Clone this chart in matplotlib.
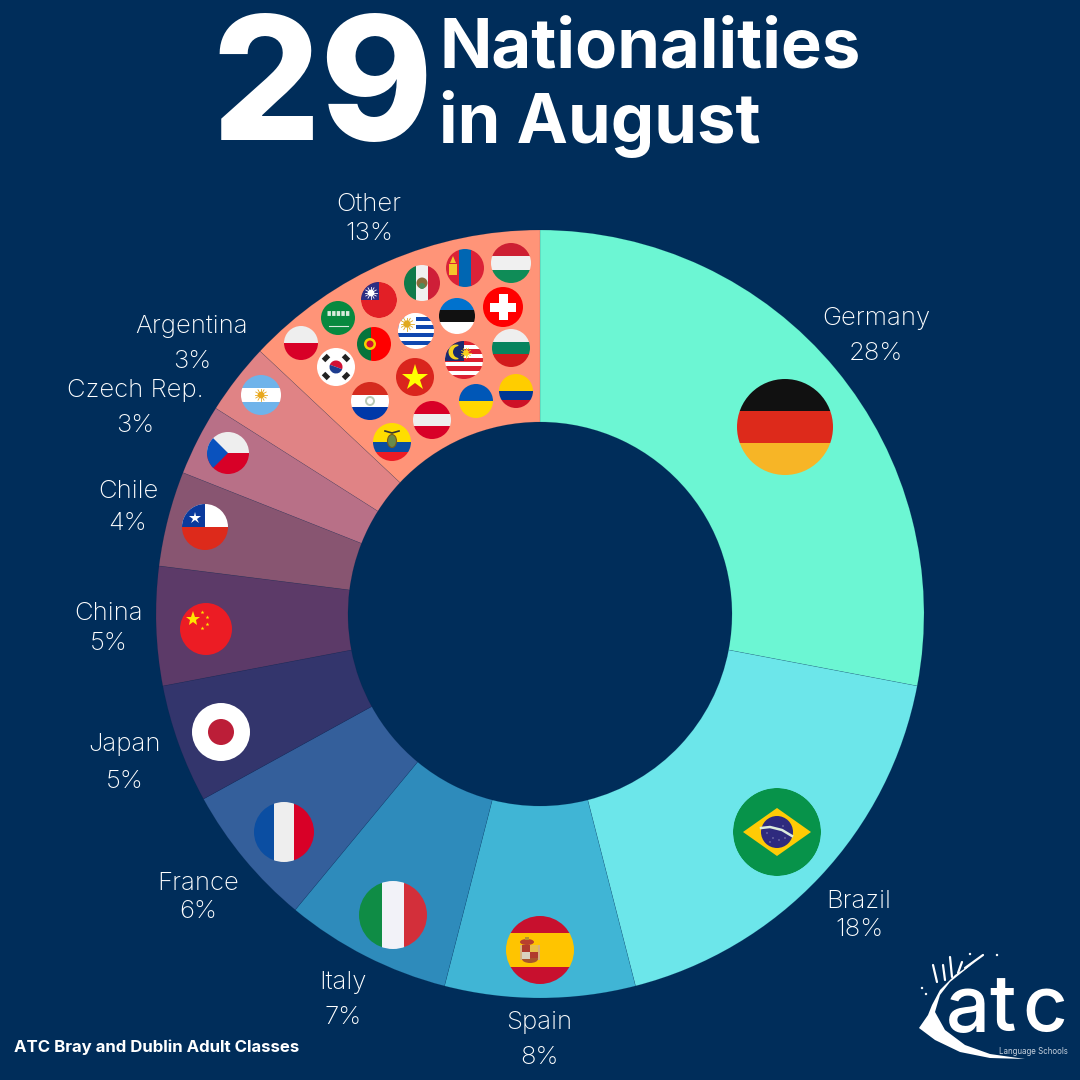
import numpy as np
import matplotlib
matplotlib.use("Agg")
import matplotlib.pyplot as plt
from matplotlib.patches import Circle, Rectangle, Polygon, Wedge, Ellipse

countries = ["Germany", "Brazil", "Spain", "Italy", "France", "Japan", "China",
             "Chile", "Czech Rep.", "Argentina", "Other"]
shares = [28, 18, 8, 7, 6, 5, 5, 4, 3, 3, 13]
slice_colors = ["#6CF6D3", "#6CE6EA", "#40B5D5", "#2E8BBB", "#345F9B", "#33356C",
                "#5C3A68", "#885571", "#B87087", "#E08385", "#FF9478"]

bg = "#002D5A"
WHITE = "#F0F0F0"

fig = plt.figure(figsize=(10.8, 10.8), dpi=100, facecolor=bg)
ax = fig.add_axes([0, 0, 1, 1])

# y axis runs downwards so the layout below is in picture pixels
ax.pie(shares, colors=slice_colors, center=(540, 614), radius=384, startangle=-90,
       counterclock=True,
       wedgeprops=dict(width=192, edgecolor=(0, 0.1, 0.25, 0.2), linewidth=0.4))
ax.set_xlim(0, 1080)
ax.set_ylim(1080, 0)
ax.set_aspect("equal")
ax.axis("off")

# label positions: x, y of first line, y of second line
label_pos = [(876, 319, 354), (859, 901, 930), (539, 1023, 1058), (343, 983, 1018),
             (198, 883, 912), (125, 745, 781), (109, 613, 643), (128, 492, 523),
             (135, 391, 426), (192, 327, 362), (369, 204, 234)]
for name, val, (lx, ly1, ly2) in zip(countries, shares, label_pos):
    ax.text(lx, ly1, name, color="white", fontsize=18.5, family="Inter", weight="light",
            ha="center", va="center")
    ax.text(lx, ly2, f"{val}%", color="white", fontsize=18.5, family="Inter", weight="light",
            ha="center", va="center")

ax.text(322, 140, "29", color="white", fontsize=123, family="Inter", weight="heavy",
        ha="center", va="baseline")
ax.text(439, 67, "Nationalities", color="white", fontsize=49.5, family="Inter", weight="bold",
        ha="left", va="baseline")
ax.text(439, 143, "in August", color="white", fontsize=49.5, family="Inter", weight="bold",
        ha="left", va="baseline")
ax.text(14, 1047, "ATC Bray and Dublin Adult Classes", color="white", fontsize=12.1,
        family="Inter", weight="bold", ha="left", va="center")


def disc(cx, cy, r):
    c = Circle((cx, cy), r, facecolor="none", edgecolor="none", zorder=3)
    ax.add_patch(c)
    return c


def add(p, clip):
    p.set_zorder(4)
    p.set_linewidth(0)
    ax.add_patch(p)
    p.set_clip_path(clip)


def hflag(cx, cy, r, cols, weights=None):
    clip = disc(cx, cy, r)
    weights = weights or [1] * len(cols)
    y = cy - r
    for c, w in zip(cols, weights):
        h = 2 * r * w / sum(weights)
        add(Rectangle((cx - r, y), 2 * r, h + 0.4, facecolor=c), clip)
        y += h
    return clip


def vflag(cx, cy, r, cols, weights=None):
    clip = disc(cx, cy, r)
    weights = weights or [1] * len(cols)
    x = cx - r
    for c, w in zip(cols, weights):
        wd = 2 * r * w / sum(weights)
        add(Rectangle((x, cy - r), wd + 0.4, 2 * r, facecolor=c), clip)
        x += wd
    return clip


def dot(x, y, r, col, clip=None):
    p = Circle((x, y), r, facecolor=col, linewidth=0, zorder=5)
    ax.add_patch(p)
    if clip is not None:
        p.set_clip_path(clip)


def star(x, y, size, col):
    ax.plot([x], [y], marker="*", ms=size, color=col, mew=0, zorder=6)


def sun(x, y, r, col="#F0A81E"):
    for a in np.arange(0, 360, 30):
        ax.plot([x, x + r * np.cos(np.radians(a))], [y, y + r * np.sin(np.radians(a))],
                color=col, lw=0.6, zorder=5)
    dot(x, y, r * 0.55, col)


# big flags
hflag(785, 427, 48, ["#111111", "#DD2A1B", "#F7B526"])

clip = disc(777, 832, 44)
add(Circle((777, 832), 44, facecolor="#07934A"), clip)
add(Polygon([(777 - 34, 832), (777, 832 - 24), (777 + 34, 832), (777, 832 + 24)],
            facecolor="#FFCB05"), clip)
add(Circle((777, 832), 16, facecolor="#2E2A7E"), clip)
ax.plot([761, 770, 782, 792], [828, 827, 830, 836], color="#DCEBDD", lw=1.8, zorder=6)
for sx, sy in [(767, 833), (773, 838), (779, 840), (785, 838), (783, 826), (770, 842)]:
    dot(sx, sy, 0.5, "white")

hflag(540, 950, 34, ["#C8102E", "#FFC400", "#C8102E"], [1, 2, 1])
# coat of arms
ax.add_patch(Rectangle((520, 945), 5, 15, facecolor="#D8B27A", linewidth=0, zorder=5))
ax.add_patch(Rectangle((535, 945), 5, 15, facecolor="#D8B27A", linewidth=0, zorder=5))
ax.add_patch(Rectangle((522, 945), 16, 13, facecolor="#B03A2E", linewidth=0, zorder=6))
ax.add_patch(Rectangle((530, 945), 8, 7, facecolor="#E8C04A", linewidth=0, zorder=6))
ax.add_patch(Rectangle((522, 952), 8, 7, facecolor="#D9D2C0", linewidth=0, zorder=6))
ax.add_patch(Ellipse((530, 959), 16, 8, facecolor="#A8552C", linewidth=0, zorder=5.5))
ax.add_patch(Ellipse((527, 942), 14, 6, facecolor="#B8402E", linewidth=0, zorder=6))
ax.add_patch(Rectangle((525, 937), 4, 3, facecolor="#B8902E", linewidth=0, zorder=6))

vflag(393, 915, 34, ["#0F8C45", "#F2F2F8", "#D32F3A"])
vflag(284, 832, 30, ["#0B4EA2", "#EEEEEE", "#D80027"])

ax.add_patch(Circle((221, 732), 29, facecolor="white", linewidth=0, zorder=4))
ax.add_patch(Circle((221, 732), 13, facecolor="#BC1E38", linewidth=0, zorder=5))

ax.add_patch(Circle((206, 629), 26, facecolor="#EC1C24", linewidth=0, zorder=4))
star(193, 619, 11, "#FFE600")
for sx, sy in [(202, 612), (207, 617), (207, 624), (202, 628)]:
    star(sx, sy, 3, "#FFE600")

clip = hflag(205, 527, 23, ["white", "#DD2A1B"])
add(Rectangle((182, 504), 23, 23, facecolor="#0A3A9C"), clip)
star(195, 518, 9, "white")

clip = hflag(228, 453, 21, ["#EEEEEE", "#D80027"])
add(Polygon([(207, 432), (228, 453), (207, 474)], facecolor="#0A52BE"), clip)

hflag(261, 395, 20, ["#6FB3EA", "white", "#6FB3EA"], [1, 1, 1])
sun(261, 395, 6, "#E8A81E")

# small flags in the "Other" slice
hflag(511, 263, 20, ["#CD1F33", WHITE, "#0F8C57"])

clip = vflag(465, 268, 19, ["#DB2237", "#0066B2", "#DB2237"])
add(Rectangle((449, 264), 8, 11, facecolor="#F5C52B"), clip)
add(Polygon([(453, 256), (456, 263), (450, 263)], facecolor="#F5C52B"), clip)

vflag(422, 283, 18, ["#0F7A4A", WHITE, "#CE1F38"])
dot(422, 283, 5.5, "#8A6B3A")
dot(422, 286, 3, "#4E8A5A")

clip = disc(379, 300, 18)
add(Circle((379, 300), 18, facecolor="#E21F26"), clip)
add(Rectangle((361, 282), 18, 18, facecolor="#2D2E83"), clip)
sun(371, 293, 6, "white")

ax.add_patch(Circle((338, 318), 17, facecolor="#07893F", linewidth=0, zorder=4))
ax.plot([327, 349], [313, 313], color="#D8EBDD", lw=3.5, ls=(0, (0.7, 0.25)), zorder=5)
ax.plot([329, 348], [326, 326], color="#D8EBDD", lw=0.8, zorder=5)

hflag(301, 343, 17, ["#EEEEEE", "#D80027"])

ax.add_patch(Circle((336, 367), 19, facecolor="white", linewidth=0, zorder=4))
ax.add_patch(Wedge((336, 367), 6.5, 200, 20, facecolor="#D21034", linewidth=0, zorder=5))
ax.add_patch(Wedge((336, 367), 6.5, 20, 200, facecolor="#1D3C8F", linewidth=0, zorder=5))
for tx, ty, ang in [(326, 358, 135), (346, 358, 45), (326, 376, 45), (346, 376, 135)]:
    ax.add_patch(Rectangle((tx - 3.5, ty - 2.5), 7, 5, angle=ang, rotation_point="center",
                           facecolor="#222222", linewidth=0, zorder=5))

vflag(374, 344, 17, ["#06743C", "#FF0000"], [2, 3])
dot(370, 344, 6, "#F5D000")
dot(370, 344, 3.5, "#D21034")

clip = hflag(416, 331, 18, ["white", "#0F47AF"] * 4 + ["white"])
add(Rectangle((398, 313), 18, 17, facecolor="white"), clip)
sun(407, 324, 6.5, "#E0A91E")

hflag(457, 316, 18, ["#0072CE", "#111111", "white"])

ax.add_patch(Circle((503, 307), 20, facecolor="#FF0000", linewidth=0, zorder=4))
ax.add_patch(Rectangle((490, 302.5), 26, 9, facecolor="white", linewidth=0, zorder=5))
ax.add_patch(Rectangle((498.5, 294), 9, 26, facecolor="white", linewidth=0, zorder=5))

hflag(511, 348, 19, ["#EEEEEE", "#07845E", "#D21B1B"])

clip = hflag(464, 360, 19, ["#DC2030", "white"] * 4 + ["#DC2030"])
add(Rectangle((445, 341), 19, 20, facecolor="#1B2A6E"), clip)
add(Wedge((456, 352), 7.5, 70, 290, facecolor="#F7D21E"), clip)
p = Circle((459, 352), 6, facecolor="#1B2A6E", linewidth=0, zorder=5)
ax.add_patch(p)
sun(466, 353, 5, "#F7D21E")

ax.add_patch(Circle((415, 377), 19, facecolor="#DA251D", linewidth=0, zorder=4))
star(415, 378, 20, "#FFFF00")

hflag(370, 401, 19, ["#D52B1E", "white", "#0038A8"])
dot(370, 401, 5, "#B9C9B4")
dot(370, 401, 3, "white")

hflag(432, 420, 19, ["#D80027", "#EEEEEE", "#D80027"])
hflag(476, 401, 17, ["#0057B7", "#FFD700"])
hflag(516, 391, 17, ["#FFCD00", "#003893", "#CE1126"], [2, 1, 1])

hflag(392, 442, 19, ["#FFDD00", "#0B4EA2", "#ED1C24"], [2, 1, 1])
ax.add_patch(Ellipse((392, 441), 9, 13, facecolor="#6A8A4A", edgecolor="#7A5A1A",
                     linewidth=0.8, zorder=5))
ax.plot([385, 392, 399], [431, 433, 431], color="#333333", lw=1.2, zorder=6)

# logo, rough version of the splash and lettering
for letter, lx in zip("atc", [968, 1003, 1045]):
    ax.text(lx, 1031, letter, color="white", fontsize=56, family="Inter", weight="medium",
            ha="center", va="baseline")
ax.text(1033, 1051, "Language Schools", color="#C8D2DE", fontsize=5.7, family="Inter",
        ha="center", va="center")
swoosh = [(975, 962), (955, 975), (940, 990), (932, 1005), (928, 1015), (919, 1028),
          (935, 1040), (960, 1052), (990, 1058), (1025, 1059), (990, 1054), (965, 1045),
          (945, 1030), (935, 1012), (940, 995), (950, 982), (965, 970)]
ax.add_patch(Polygon(swoosh, facecolor="white", linewidth=0, zorder=5))
for x0, y0, x1, y1 in [(937, 982, 933, 965), (945, 980, 943, 965), (952, 977, 950, 957),
                       (958, 973, 962, 962), (965, 968, 983, 955)]:
    ax.plot([x0, x1], [y0, y1], color="white", lw=1.6, zorder=5, solid_capstyle="round")
for sx, sy in [(997, 955), (922, 988), (970, 954), (926, 994)]:
    dot(sx, sy, 1.2, "white")

fig.savefig("out.png", dpi=100, facecolor=bg)
